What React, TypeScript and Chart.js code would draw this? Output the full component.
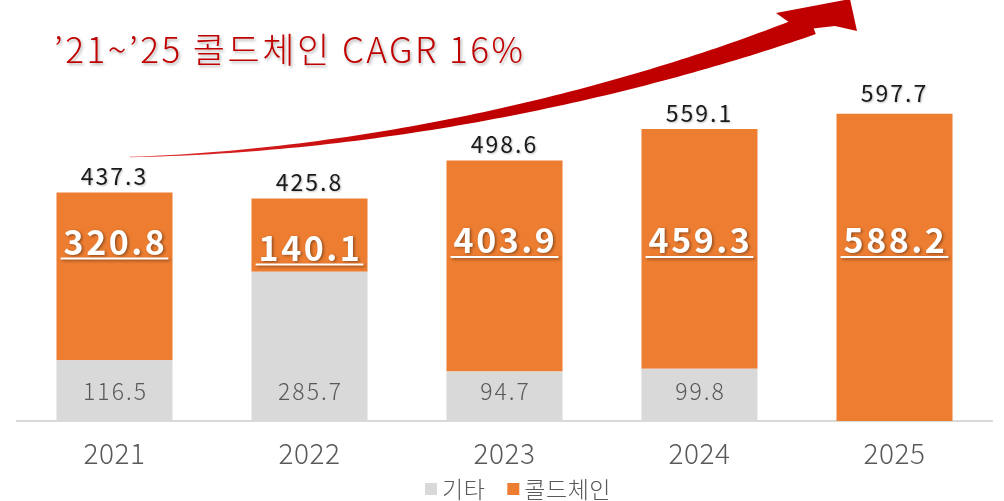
import React, { useEffect, useRef } from "react";
import { Chart, registerables } from "chart.js";

Chart.register(...registerables);

const categories = ["2021", "2022", "2023", "2024", "2025"];
const otherValues = [116.5, 285.7, 94.7, 99.8, 0];
const coldChainValues = [320.8, 140.1, 403.9, 459.3, 588.2];
const totalValues = [437.3, 425.8, 498.6, 559.1, 597.7];
const legendLabels = ["기타", "콜드체인"];
const titleText = "\u201921~\u201925 콜드체인 CAGR 16%";

const FONT = "'Noto Sans CJK KR', 'Noto Sans', sans-serif";
const ORANGE = "#ED7D31";
const GRAY = "#D9D9D9";
const TEXT_GRAY = "#595959";
const RED = "#C00000";

const fmt = (v: number) => v.toFixed(1);

const decorPlugin = {
  id: "decor",
  afterDatasetsDraw(chart: any) {
    const ctx = chart.ctx as any;
    const area = chart.chartArea;
    const y = chart.scales.y;
    const metaOther = chart.getDatasetMeta(0);
    const metaCold = chart.getDatasetMeta(1);

    // ---- curved arrow ----
    ctx.save();
    const P0 = { x: 130, y: 157 };
    const P1 = { x: 400, y: 150 };
    const P2 = { x: 650, y: 85 };
    const P3 = { x: 812, y: 24 };
    const bez = (t: number) => {
      const u = 1 - t;
      return {
        x: u * u * u * P0.x + 3 * u * u * t * P1.x + 3 * u * t * t * P2.x + t * t * t * P3.x,
        y: u * u * u * P0.y + 3 * u * u * t * P1.y + 3 * u * t * t * P2.y + t * t * t * P3.y,
      };
    };
    const dbez = (t: number) => {
      const u = 1 - t;
      return {
        x: 3 * u * u * (P1.x - P0.x) + 6 * u * t * (P2.x - P1.x) + 3 * t * t * (P3.x - P2.x),
        y: 3 * u * u * (P1.y - P0.y) + 6 * u * t * (P2.y - P1.y) + 3 * t * t * (P3.y - P2.y),
      };
    };
    const N = 80;
    const upper: { x: number; y: number }[] = [];
    const lower: { x: number; y: number }[] = [];
    for (let i = 0; i <= N; i++) {
      const t = i / N;
      const p = bez(t);
      const d = dbez(t);
      const len = Math.hypot(d.x, d.y);
      const nx = -d.y / len;
      const ny = d.x / len;
      const w = (0.5 + 21 * Math.pow(t, 1.2)) / 2;
      upper.push({ x: p.x - nx * w, y: p.y - ny * w });
      lower.push({ x: p.x + nx * w, y: p.y + ny * w });
    }
    const grad = ctx.createLinearGradient(130, 0, 860, 0);
    grad.addColorStop(0, "#E03030");
    grad.addColorStop(0.4, RED);
    grad.addColorStop(1, RED);
    ctx.fillStyle = grad;
    ctx.beginPath();
    ctx.moveTo(upper[0].x, upper[0].y);
    upper.forEach((p) => ctx.lineTo(p.x, p.y));
    for (let i = lower.length - 1; i >= 0; i--) ctx.lineTo(lower[i].x, lower[i].y);
    ctx.closePath();
    ctx.fill();
    ctx.beginPath();
    ctx.moveTo(776, 13);
    ctx.lineTo(850, -1);
    ctx.lineTo(857, 31);
    ctx.lineTo(835, 26);
    ctx.lineTo(800, 30);
    ctx.closePath();
    ctx.fill();
    ctx.restore();

    // ---- title ----
    ctx.save();
    ctx.font = `300 35px ${FONT}`;
    ctx.letterSpacing = "2.5px";
    ctx.fillStyle = RED;
    ctx.textAlign = "left";
    ctx.textBaseline = "alphabetic";
    ctx.shadowColor = "rgba(0,0,0,0.3)";
    ctx.shadowBlur = 3;
    ctx.shadowOffsetX = 1.5;
    ctx.shadowOffsetY = 1.5;
    ctx.fillText(titleText, 54, 63);
    ctx.restore();

    // ---- total labels ----
    ctx.save();
    ctx.font = `400 23px ${FONT}`;
    ctx.letterSpacing = "2px";
    ctx.fillStyle = "#1A1A1A";
    ctx.textAlign = "center";
    ctx.textBaseline = "middle";
    ctx.shadowColor = "rgba(0,0,0,0.25)";
    ctx.shadowBlur = 2;
    ctx.shadowOffsetX = 1;
    ctx.shadowOffsetY = 1;
    totalValues.forEach((v, i) => {
      const x = metaCold.data[i].x;
      const yy = y.getPixelForValue(v) - 16;
      ctx.fillText(fmt(v), x, yy);
    });
    ctx.restore();

    // ---- cold chain labels ----
    ctx.save();
    ctx.font = `700 34px ${FONT}`;
    ctx.letterSpacing = "2.5px";
    ctx.fillStyle = "#FFFFFF";
    ctx.strokeStyle = "#FFFFFF";
    ctx.textAlign = "center";
    ctx.textBaseline = "middle";
    ctx.shadowColor = "rgba(0,0,0,0.4)";
    ctx.shadowBlur = 3;
    ctx.shadowOffsetX = 1.5;
    ctx.shadowOffsetY = 1.5;
    coldChainValues.forEach((v, i) => {
      const bar = metaCold.data[i];
      const top = bar.y;
      const yy = Math.max(area.top + 240, top + 49);
      const txt = fmt(v);
      ctx.fillText(txt, bar.x + 1, yy);
      const w = ctx.measureText(txt).width;
      ctx.lineWidth = 2;
      ctx.beginPath();
      ctx.moveTo(bar.x - w / 2 - 2, yy + 17);
      ctx.lineTo(bar.x + w / 2 + 2, yy + 17);
      ctx.stroke();
    });
    ctx.restore();

    // ---- other labels ----
    ctx.save();
    ctx.font = `300 23px ${FONT}`;
    ctx.letterSpacing = "2px";
    ctx.fillStyle = TEXT_GRAY;
    ctx.textAlign = "center";
    ctx.textBaseline = "middle";
    otherValues.forEach((v, i) => {
      if (!v) return;
      const bar = metaOther.data[i];
      ctx.fillText(fmt(v), bar.x + 1, area.bottom - 30);
    });
    ctx.restore();

    // ---- category labels ----
    ctx.save();
    ctx.font = `300 28px ${FONT}`;
    ctx.letterSpacing = "0.5px";
    ctx.fillStyle = TEXT_GRAY;
    ctx.textAlign = "center";
    ctx.textBaseline = "middle";
    const xs = chart.scales.x;
    categories.forEach((c, i) => {
      ctx.fillText(c, xs.getPixelForValue(i), area.bottom + 32);
    });
    ctx.restore();

    // ---- legend ----
    ctx.save();
    ctx.font = `300 23px ${FONT}`;
    ctx.letterSpacing = "0.5px";
    ctx.textBaseline = "middle";
    ctx.textAlign = "left";
    const colors = [GRAY, ORANGE];
    const ly = 489;
    const box = 12;
    const gapBoxText = 5;
    const gapItems = 22;
    let lx = 425;
    legendLabels.forEach((l, i) => {
      ctx.fillStyle = colors[i];
      ctx.fillRect(lx, ly - box / 2, box, box);
      ctx.fillStyle = TEXT_GRAY;
      ctx.fillText(l, lx + box + gapBoxText, ly);
      lx += box + gapBoxText + ctx.measureText(l).width + gapItems;
    });
    ctx.restore();
  },
};

export default function App() {
  const ref = useRef<HTMLCanvasElement | null>(null);
  useEffect(() => {
    if (!ref.current) return;
    const chart = new Chart(ref.current, {
      type: "bar",
      data: {
        labels: categories,
        datasets: [
          {
            label: legendLabels[0],
            data: otherValues,
            backgroundColor: GRAY,
            borderWidth: 0,
            barPercentage: 0.595,
            categoryPercentage: 1,
          },
          {
            label: legendLabels[1],
            data: coldChainValues,
            backgroundColor: ORANGE,
            borderWidth: 0,
            barPercentage: 0.595,
            categoryPercentage: 1,
          },
        ],
      },
      options: {
        animation: false,
        responsive: true,
        maintainAspectRatio: false,
        layout: { padding: { left: 17, right: 12, top: 0, bottom: 80 } },
        plugins: {
          legend: { display: false },
          tooltip: { enabled: false },
          title: { display: false },
        },
        scales: {
          x: {
            stacked: true,
            grid: { display: false, drawTicks: false },
            border: { display: true, color: GRAY, width: 2 },
            ticks: { display: false },
            afterFit: (scale: any) => {
              scale.height = 0;
            },
          },
          y: {
            stacked: true,
            display: false,
            min: 0,
            max: 806,
          },
        },
      },
      plugins: [decorPlugin],
    });
    return () => chart.destroy();
  }, []);
  return (
    <div style={{ position: "fixed", left: 0, top: 0, width: 1004, height: 501, background: "#fff" }}>
      <canvas ref={ref} />
    </div>
  );
}
